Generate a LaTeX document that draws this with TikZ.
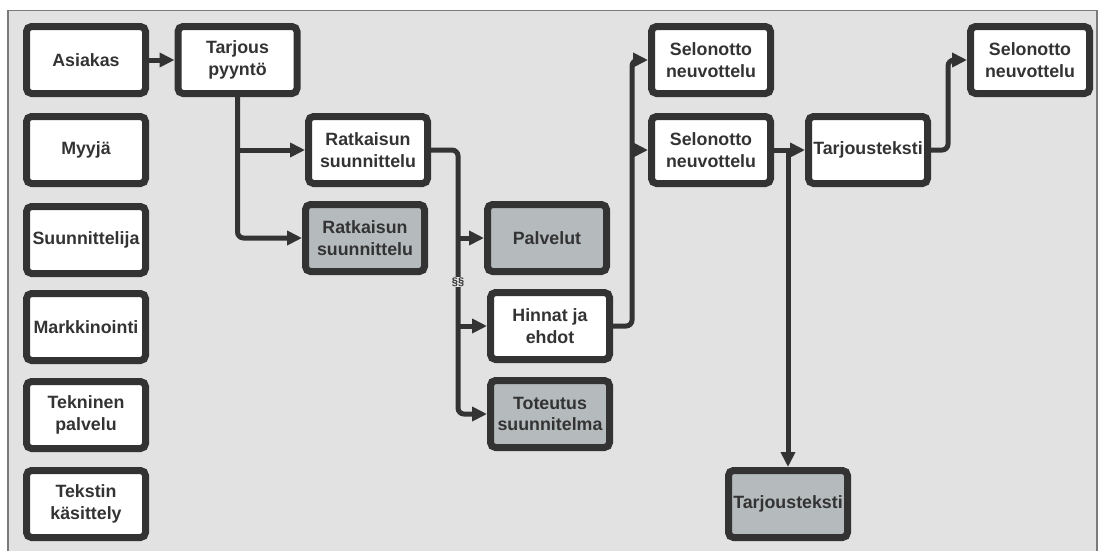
\documentclass[tikz,border=0pt]{standalone}
\usepackage{fontspec}
\setmainfont{Liberation Sans}
\usetikzlibrary{arrows.meta}
\definecolor{bg}{HTML}{E2E2E2}
\definecolor{panelline}{HTML}{7A7A7A}
\definecolor{ink}{HTML}{333333}
\definecolor{grayfill}{HTML}{B5BABC}
\tikzset{
  box/.style={draw=ink, line width=7pt, rounded corners=5pt, fill=white,
    minimum width=119pt, minimum height=67pt, inner sep=0pt, align=center,
    text=ink, font=\fontsize{17.8}{21.5}\selectfont\bfseries},
  graybox/.style={box, fill=grayfill},
  conn/.style={draw=ink, line width=5pt, rounded corners=6pt},
  arr/.style={conn, -{Triangle[length=15pt,width=14pt]}}
}
\begin{document}
\begin{tikzpicture}[x=1pt,y=-1pt]
\useasboundingbox (0,0) rectangle (1099,550);
\fill[white] (0,0) rectangle (1099,550);
\draw[panelline, fill=bg, line width=1.5pt] (8,10.5) rectangle (1097,565);

% left column
\node[box] (asiakas) at (86,60) {Asiakas};
\node[box] (myyja) at (86,150) {Myyjä};
\node[box] (suunn) at (86,240) {Suunnittelija};
\node[box] (mark) at (86,327) {Markkinointi};
\node[box] (tekn) at (86,415) {Tekninen\\palvelu};
\node[box] (tekst) at (86,504) {Tekstin\\käsittely};

% flow
\node[box] (tarj) at (237.5,60) {Tarjous\\pyyntö};
\node[box] (rw) at (368,150) {Ratkaisun\\suunnittelu};
\node[graybox] (rg) at (365,238) {Ratkaisun\\suunnittelu};
\node[graybox] (palv) at (547,238) {Palvelut};
\node[box] (hinn) at (550,326) {Hinnat ja\\ehdot};
\node[graybox] (tot) at (550,414) {Toteutus\\suunnitelma};
\node[box] (selt) at (711,60) {Selonotto\\neuvottelu};
\node[box] (selm) at (711,150) {Selonotto\\neuvottelu};
\node[box] (tt) at (868,150) {Tarjousteksti};
\node[box] (selr) at (1030,60) {Selonotto\\neuvottelu};
\node[graybox] (tg) at (788,504) {Tarjousteksti};

% connectors
\draw[arr] (asiakas.east) -- (tarj.west);
\draw[arr] (tarj.south) |- (rg.west);
\draw[arr] (tarj.south |- rw.west) -- (rw.west);

\coordinate (vx) at (458,0);
\draw[arr] (rw.east) -| (vx |- palv.west) |- (tot.west);
\draw[arr] (vx |- palv.west) -- (palv.west);
\draw[arr] (vx |- hinn.west) -- (hinn.west);
\node[fill=bg, inner sep=1pt, text=ink, font=\fontsize{11}{11}\selectfont\bfseries] (ss) at (458,282) {§§};

\coordinate (hx) at (632,0);
\draw[arr] (hinn.east) -| (hx |- selm.west) |- (selt.west);
\draw[arr] (hx |- selm.west) -- (selm.west);

\draw[arr] (selm.east) -- (tt.west);
\draw[arr] (tg.north |- selm.east) -- (tg.north);

\coordinate (tx) at (948,0);
\draw[arr] (tt.east) -| (tx |- selr.west) -- (selr.west);
\end{tikzpicture}
\end{document}
